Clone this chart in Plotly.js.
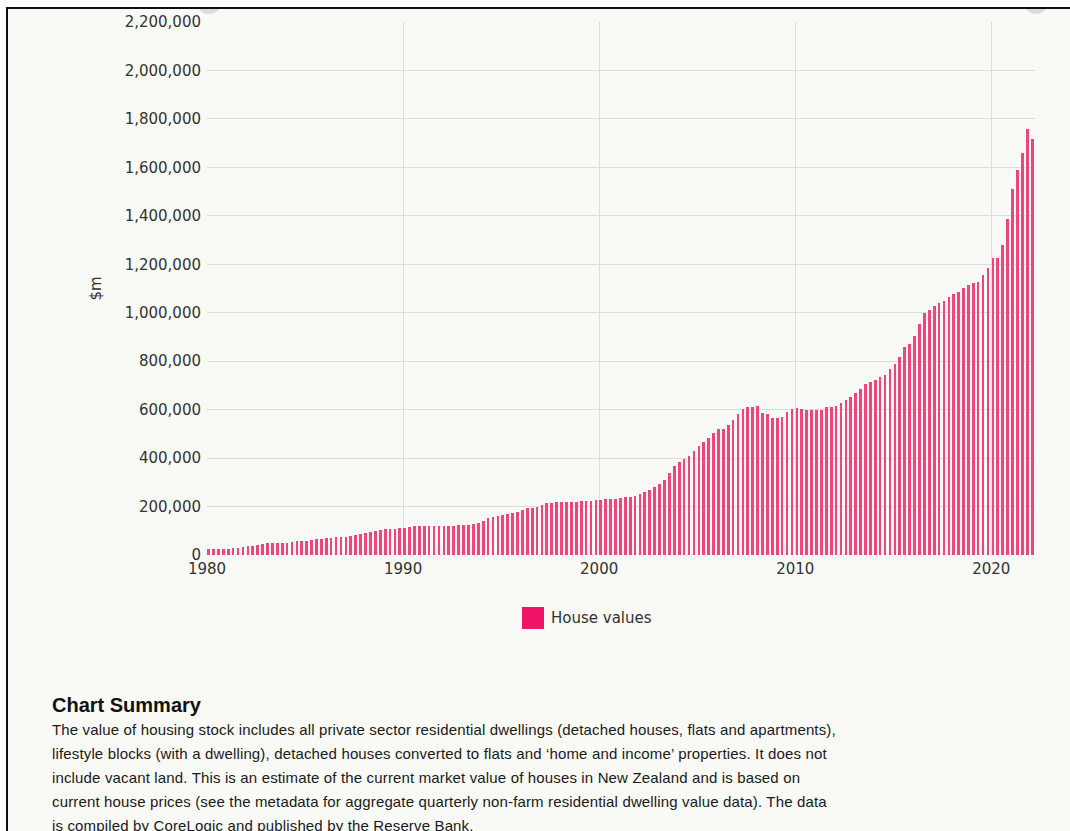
<!DOCTYPE html>
<html>
<head>
<meta charset="utf-8">
<script src="https://cdn.plot.ly/plotly-3.0.1.min.js"></script>
<style>
  html, body { margin: 0; padding: 0; background: #ffffff; width: 1070px; height: 831px; overflow: hidden; }
  #frame { position: absolute; left: 6px; top: 7px; width: 1070px; height: 830px;
           border-left: 2px solid #111; border-top: 2px solid #111; background: #f9f9f5; overflow: hidden; }
  .knob { position: absolute; width: 24px; height: 24px; border-radius: 50%; background: #dcdcdc; top: -19px; }
  #chart { position: absolute; left: 0; top: 0; width: 1070px; height: 660px; }
  #summary { position: absolute; left: 52px; top: 692px; width: 960px; color: #1a1a1a;
             font-family: "Liberation Sans", Arial, sans-serif; }
  #summary h3 { margin: 0; font-size: 20px; font-weight: bold; line-height: 26px; color: #111; }
  #summary p { margin: 0; font-size: 15px; line-height: 24px; letter-spacing: 0.15px; white-space: nowrap; }
</style>
</head>
<body>
<div id="frame">
  <div class="knob" style="left:189px"></div>
  <div class="knob" style="left:1016px"></div>
</div>
<div id="chart"></div>
<div id="summary">
  <h3>Chart Summary</h3>
  <p>The value of housing stock includes all private sector residential dwellings (detached houses, flats and apartments),<br>lifestyle blocks (with a dwelling), detached houses converted to flats and ‘home and income’ properties. It does not<br>include vacant land. This is an estimate of the current market value of houses in New Zealand and is based on<br>current house prices (see the metadata for aggregate quarterly non-farm residential dwelling value data). The data<br>is compiled by CoreLogic and published by the Reserve Bank.</p>
</div>
<script>
// Quarterly series, starting 1980 Q1, values in $m
const startYear = 1980;
const seriesName = "House values";
const houseValues = [
  23000, 23000, 25000, 25000, 26000, 29000, 30000, 33000,
  36000, 38000, 41000, 45000, 48000, 48000, 49000, 49000,
  51000, 54000, 56000, 56000, 59000, 61000, 65000, 67000,
  70000, 71000, 74000, 76000, 76000, 78000, 81000, 85000,
  91000, 93000, 99000, 102000, 106000, 106000, 106000, 110000,
  112000, 115000, 118000, 120000, 120000, 120000, 119000, 118000,
  119000, 120000, 121000, 122000, 123000, 125000, 128000, 132000,
  142000, 151000, 158000, 162000, 165000, 169000, 172000, 179000,
  186000, 192000, 195000, 198000, 205000, 213000, 216000, 220000,
  220000, 217000, 218000, 220000, 221000, 224000, 224000, 225000,
  228000, 230000, 231000, 232000, 235000, 238000, 239000, 243000,
  253000, 258000, 268000, 279000, 294000, 309000, 337000, 367000,
  385000, 395000, 408000, 428000, 450000, 466000, 481000, 502000,
  520000, 522000, 536000, 557000, 584000, 602000, 609000, 612000,
  614000, 588000, 580000, 566000, 566000, 570000, 591000, 602000,
  606000, 601000, 598000, 598000, 600000, 598000, 612000, 612000,
  617000, 628000, 639000, 653000, 669000, 686000, 705000, 715000,
  722000, 733000, 742000, 766000, 788000, 818000, 859000, 869000,
  903000, 955000, 999000, 1010000, 1027000, 1041000, 1049000, 1065000,
  1076000, 1086000, 1102000, 1116000, 1123000, 1127000, 1155000, 1185000,
  1227000, 1227000, 1278000, 1386000, 1512000, 1588000, 1661000, 1760000,
  1718000
];
const yTickVals = [0, 200000, 400000, 600000, 800000, 1000000, 1200000, 1400000, 1600000, 1800000, 2000000, 2200000];
const yTickText = ["0", "200,000", "400,000", "600,000", "800,000", "1,000,000", "1,200,000", "1,400,000", "1,600,000", "1,800,000", "2,000,000", "2,200,000"];
const xTickVals = ["1980-01-01", "1990-01-01", "2000-01-01", "2010-01-01", "2020-01-01"];
const xTickText = ["1980", "1990", "2000", "2010", "2020"];
const yTitle = "$m";

// quarter dates (one bar per quarter)
const quarterDates = houseValues.map((v, i) => {
  const y = startYear + Math.floor(i / 4);
  const m = 3 * (i % 4) + 2;
  return y + "-" + String(m).padStart(2, "0") + "-01";
});

const barColor = "#f0447f";
const legendColor = "#ef1467";
const dayMs = 86400000;

const trace = {
  type: "bar",
  name: seriesName,
  x: quarterDates,
  y: houseValues,
  width: 50 * dayMs,
  marker: { color: barColor, line: { width: 0 } },
  showlegend: false,
  hovertemplate: "%{x|%Y}: %{y:,}<extra></extra>"
};

const tickFont = { family: "DejaVu Sans, sans-serif", size: 15, color: "#333333" };

const layout = {
  width: 1070,
  height: 660,
  margin: { l: 207, r: 35, t: 22, b: 105 },
  paper_bgcolor: "rgba(0,0,0,0)",
  plot_bgcolor: "rgba(0,0,0,0)",
  font: tickFont,
  bargap: 0,
  xaxis: {
    type: "date",
    range: ["1980-01-01", "2022-03-25"],
    tickvals: xTickVals,
    ticktext: xTickText,
    showgrid: true,
    gridcolor: "#dddddd",
    gridwidth: 1,
    zeroline: false,
    showline: false,
    ticks: "",
    ticklabelstandoff: 3,
    tickfont: tickFont
  },
  yaxis: {
    range: [0, 2200000],
    tickvals: yTickVals,
    ticktext: yTickText,
    showgrid: true,
    gridcolor: "#dddddd",
    gridwidth: 1,
    zeroline: false,
    showline: false,
    ticks: "",
    ticklabelstandoff: 5,
    tickfont: tickFont,
    title: { text: yTitle, standoff: 19, font: tickFont }
  },
  shapes: [
    {
      type: "rect", xref: "paper", yref: "paper",
      x0: (522 - 207) / 828, x1: (544 - 207) / 828,
      y0: (555 - 629) / 533, y1: (555 - 607) / 533,
      fillcolor: legendColor, line: { width: 0 }
    }
  ],
  annotations: [
    {
      xref: "paper", yref: "paper",
      x: (549 - 207) / 828, y: (555 - 618) / 533,
      xanchor: "left", yanchor: "middle",
      text: seriesName, showarrow: false,
      font: { family: "DejaVu Sans, sans-serif", size: 15, color: "#333333" }
    }
  ]
};

Plotly.newPlot("chart", [trace], layout, { displayModeBar: false, staticPlot: true });
</script>
</body>
</html>
